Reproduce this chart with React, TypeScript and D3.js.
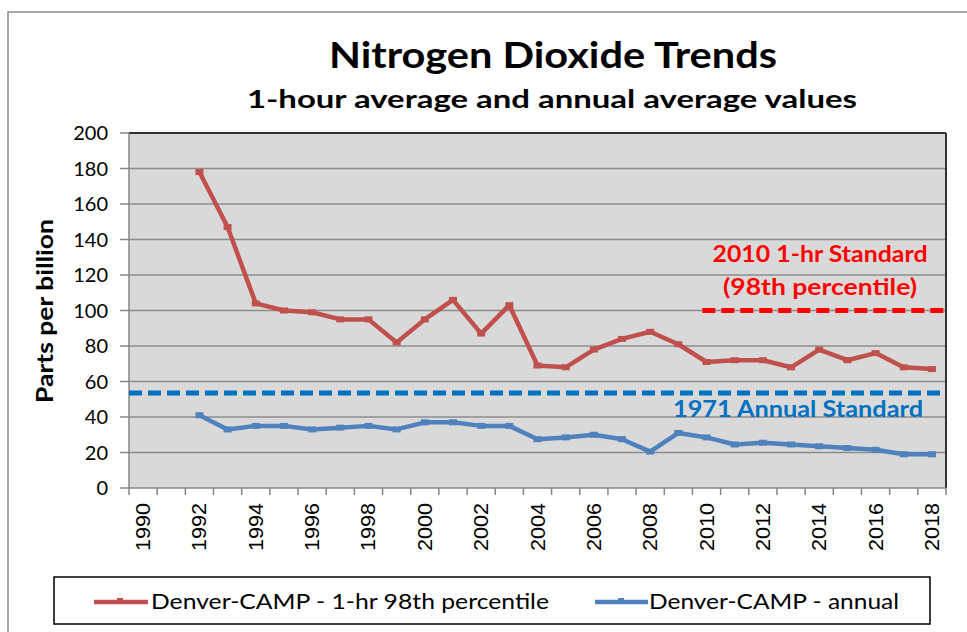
import React from "react";
import * as d3 from "d3";

const years: number[] = d3.range(1990, 2019);
const hourYears: number[] = [1992,1993,1994,1995,1996,1997,1998,1999,2000,2001,2002,2003,2004,2005,2006,2007,2008,2009,2010,2011,2012,2013,2014,2015,2016,2017,2018];
const hourValues: number[] = [178,147,104,100,99,95,95,82,95,106,87,103,69,68,78,84,88,81,71,72,72,68,78,72,76,68,67];
const annualValues: number[] = [41,33,35,35,33,34,35,33,37,37,35,35,27.5,28.5,30,27.5,20.5,31,28.5,24.5,25.5,24.5,23.5,22.5,21.5,19,19];
const yTicks: number[] = [0,20,40,60,80,100,120,140,160,180,200];
const xLabelYears: number[] = years.filter((y) => y % 2 === 0);
const hourStandard = 100;
const annualStandard = 53.5;
const hourStandardStart = 2010;

const title = "Nitrogen Dioxide Trends";
const subtitle = "1-hour average and annual average values";
const yTitle = "Parts per billion";
const seriesNames: string[] = ["Denver-CAMP - 1-hr 98th percentile", "Denver-CAMP - annual"];

const RED = "#C0504D";
const BLUE = "#4F81BD";
const FONT = "Lato, 'Open Sans', sans-serif";

export default function App() {
  const left = 129, right = 946, top = 133, bottom = 488;
  const x = d3.scaleBand<number>().domain(years).range([left, right]).padding(0);
  const cx = (yr: number) => (x(yr) as number) + x.bandwidth() / 2;
  const y = d3.scaleLinear().domain([0, 200]).range([bottom, top]);

  const line = d3.line<[number, number]>().x((d) => cx(d[0])).y((d) => y(d[1]));
  const hourPts: [number, number][] = hourYears.map((yr, i) => [yr, hourValues[i]]);
  const annPts: [number, number][] = hourYears.map((yr, i) => [yr, annualValues[i]]);
  const boundaries = d3.range(0, years.length + 1).map((i) => left + i * x.bandwidth());
  const hourStdX0 = cx(hourStandardStart) - x.bandwidth() * 0.15;

  return (
    <svg width={967} height={632} style={{ position: "absolute", left: 0, top: 0, background: "#fff" }}>
      <rect x={0} y={0} width={967} height={632} fill="#fff" />
      <rect x={8} y={12} width={1000} height={700} fill="#fff" stroke="#8a8a8a" strokeWidth={1.5} />
      <text x={553} y={68} textAnchor="middle" fontFamily={FONT} fontWeight="bold" fontSize={37} textLength={448} lengthAdjust="spacingAndGlyphs" fill="#000">{title}</text>
      <text x={552} y={108} textAnchor="middle" fontFamily={FONT} fontWeight="bold" fontSize={25} textLength={610} lengthAdjust="spacingAndGlyphs" fill="#000">{subtitle}</text>

      <rect x={left} y={top} width={right - left} height={bottom - top} fill="#D9D9D9" />
      {yTicks.filter((t) => t > 0).map((t) => (
        <line key={"g" + t} x1={left} x2={right} y1={y(t)} y2={y(t)} stroke="#8c8c8c" strokeWidth={1.6} />
      ))}
      <line x1={left} x2={right} y1={top} y2={top} stroke="#333" strokeWidth={2} />
      <line x1={right} x2={right} y1={top} y2={bottom} stroke="#333" strokeWidth={2} />
      <line x1={left} x2={left} y1={top} y2={bottom} stroke="#868686" strokeWidth={1.5} />
      <line x1={left} x2={right} y1={bottom} y2={bottom} stroke="#868686" strokeWidth={1.5} />
      {yTicks.map((t) => (
        <g key={"yt" + t}>
          <line x1={120} x2={left} y1={y(t)} y2={y(t)} stroke="#868686" strokeWidth={1.5} />
          <text x={108} y={y(t) + 7} textAnchor="end" fontFamily={FONT} fontSize={20} fill="#000">{t}</text>
        </g>
      ))}
      {boundaries.map((bx, i) => (
        <line key={"xt" + i} x1={bx} x2={bx} y1={bottom} y2={bottom + 7} stroke="#868686" strokeWidth={1.5} />
      ))}
      {xLabelYears.map((yr) => (
        <text key={"xl" + yr} transform={`translate(${cx(yr) + 7},${bottom + 15}) rotate(-90)`} textAnchor="end" fontFamily="'Liberation Sans', Arial, sans-serif" fontSize={20} textLength={48} lengthAdjust="spacingAndGlyphs" fill="#000">{yr}</text>
      ))}
      <text transform={`translate(53,311) rotate(-90)`} textAnchor="middle" fontFamily={FONT} fontWeight="bold" fontSize={23} textLength={184} lengthAdjust="spacingAndGlyphs" fill="#000">{yTitle}</text>

      <line x1={left} x2={right} y1={y(annualStandard)} y2={y(annualStandard)} stroke="#0070C0" strokeWidth={5} strokeDasharray="13,6" />
      <line x1={hourStdX0} x2={right} y1={y(hourStandard)} y2={y(hourStandard)} stroke="#FF0000" strokeWidth={5} strokeDasharray="13,6" />
      <text x={820} y={262} textAnchor="middle" fontFamily={FONT} fontWeight="bold" fontSize={22} textLength={215} lengthAdjust="spacingAndGlyphs" fill="#FF0000">2010  1-hr Standard</text>
      <text x={820} y={295} textAnchor="middle" fontFamily={FONT} fontWeight="bold" fontSize={22} textLength={194} lengthAdjust="spacingAndGlyphs" fill="#FF0000">(98th percentile)</text>
      <text x={798} y={417} textAnchor="middle" fontFamily={FONT} fontWeight="bold" fontSize={22} textLength={250} lengthAdjust="spacingAndGlyphs" fill="#0070C0">1971  Annual Standard</text>

      <path d={line(hourPts) || ""} fill="none" stroke={RED} strokeWidth={4.5} strokeLinejoin="round" />
      {hourPts.map((p, i) => (
        <rect key={"hm" + i} x={cx(p[0]) - 4} y={y(p[1]) - 3} width={8} height={6} fill={RED} />
      ))}
      <path d={line(annPts) || ""} fill="none" stroke={BLUE} strokeWidth={4.5} strokeLinejoin="round" />
      {annPts.map((p, i) => (
        <rect key={"am" + i} x={cx(p[0]) - 4} y={y(p[1]) - 3} width={8} height={6} fill={BLUE} />
      ))}

      <rect x={54} y={577} width={876} height={47} fill="#fff" stroke="#000" strokeWidth={1.5} />
      <line x1={94} x2={148} y1={602} y2={602} stroke={RED} strokeWidth={4.5} />
      <rect x={117} y={598} width={6} height={4} fill={RED} />
      <text x={151} y={609} fontFamily={FONT} fontSize={22} textLength={398} lengthAdjust="spacingAndGlyphs" fill="#000">{seriesNames[0]}</text>
      <line x1={595} x2={648} y1={602} y2={602} stroke={BLUE} strokeWidth={4.5} />
      <rect x={618} y={598} width={6} height={4} fill={BLUE} />
      <text x={649} y={609} fontFamily={FONT} fontSize={22} textLength={250} lengthAdjust="spacingAndGlyphs" fill="#000">{seriesNames[1]}</text>
    </svg>
  );
}
